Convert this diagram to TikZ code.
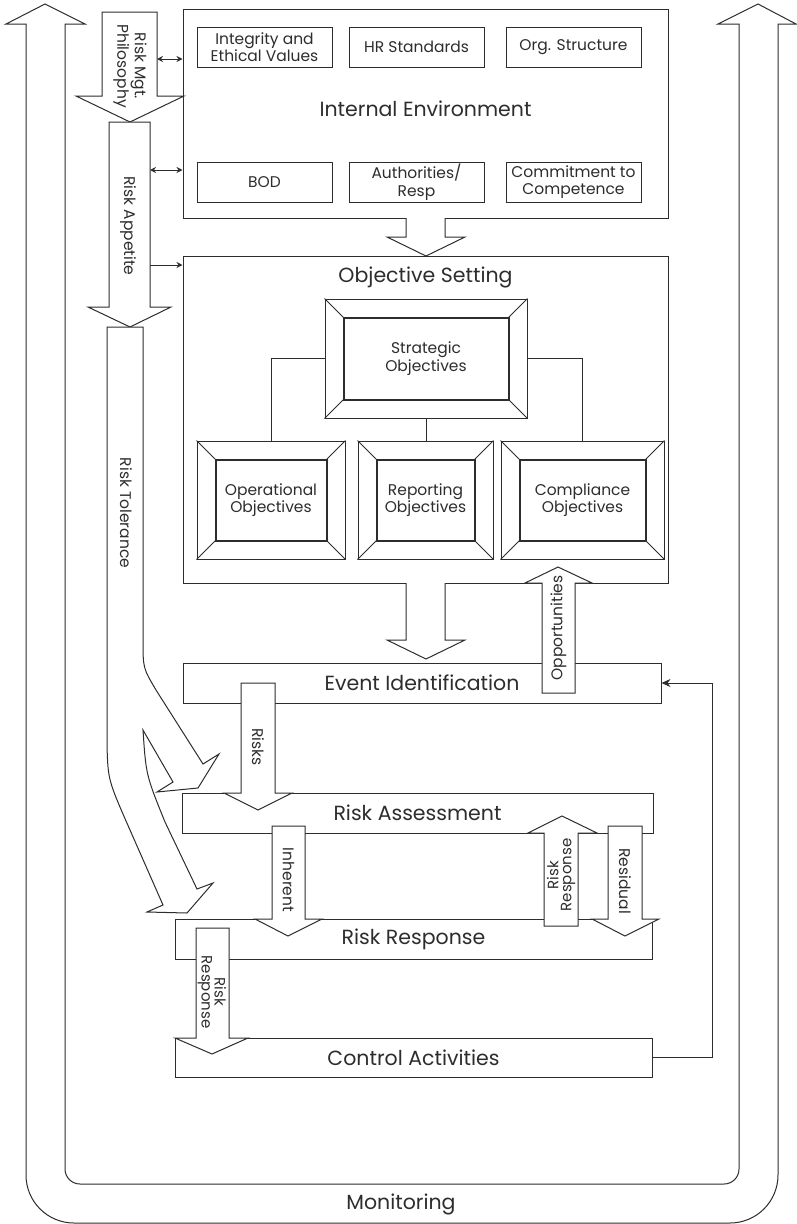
\documentclass[tikz,border=0pt]{standalone}
\usepackage{fontspec}
\setmainfont{Poppins}
\usetikzlibrary{arrows.meta,calc}
\definecolor{lc}{RGB}{45,45,45}
\newcommand\fbig{\fontsize{20.5}{24}\selectfont}
\newcommand\fsm{\fontsize{15.5}{17.5}\selectfont}
\newcommand\fxs{\fontsize{15}{13}\selectfont}
\tikzset{
  ln/.style={draw=lc, line width=1pt},
  box/.style={draw=lc, line width=1pt, fill=white, inner sep=0pt, align=center, text=lc},
  sbox/.style={box, minimum width=135, minimum height=40, font=\fsm},
  pbox/.style={box, font=\fbig},
  blk/.style={draw=lc, line width=1pt, fill=white, line join=miter},
  lbl/.style={text=lc, inner sep=0pt, align=center},
  tip/.style={{Stealth[length=6pt,width=6pt]}-{Stealth[length=6pt,width=6pt]}}
}
\newcommand\bevelbox[6]{%
  \node[box, minimum width=#4, minimum height=#5, font=\fsm] (#1) at (#2,#3) {#6};
  \draw[lc, line width=2pt] ($(#1.north west)+(19,19)$) rectangle ($(#1.south east)+(-19,-19)$);
  \draw[ln] (#1.north west) -- ++(19,19) (#1.north east) -- ++(-19,19)
            (#1.south west) -- ++(19,-19) (#1.south east) -- ++(-19,-19);
}
\begin{document}
\begin{tikzpicture}[x=1pt,y=-1pt]
\useasboundingbox (0,0) rectangle (797,1224);
% Monitoring
\draw[blk] (45,4) -- (85,24) -- (65,24) -- (65,600) [rounded corners=15pt] -- (65,1184) -- (739,1184) -- (739,600) [sharp corners] -- (739,24) -- (718,24) -- (758,4) -- (796,24) -- (778,24) -- (778,600) [rounded corners=48pt] -- (778,1223) -- (26,1223) -- (26,600) [sharp corners] -- (26,24) -- (6,24) -- cycle;
\node[lbl, font=\fbig] (mon) at (401,1204) {Monitoring};

% Internal environment
\node[box, minimum width=485, minimum height=209] (ie) at (425.5,113.5) {};
\node[lbl, font=\fbig] (iel) at (425.5,109) {Internal Environment};
\node[sbox] (integ) at (264.5,47) {Integrity and\\Ethical Values};
\node[sbox] (hr) at (416.5,47) {HR Standards};
\node[sbox] (org) at (573.5,47) {Org. Structure};
\node[sbox] (bod) at (264.5,182) {BOD};
\node[sbox] (auth) at (416.5,182) {Authorities/\\Resp};
\node[sbox] (comm) at (573.5,182) {Commitment to\\Competence};

% Objective setting
\node[box, minimum width=485, minimum height=327] (os) at (425.5,419.5) {};
\node[lbl, font=\fbig] (osl) at (425.5,277) {Objective Setting};
\bevelbox{strat}{426}{358.5}{202}{119}{Strategic\\Objectives}
\bevelbox{oper}{271}{500}{148}{118}{Operational\\Objectives}
\bevelbox{rep}{425.5}{500}{135}{118}{Reporting\\Objectives}
\bevelbox{comp}{582.5}{500}{163}{118}{Compliance\\Objectives}
\draw[ln] (strat.west) -| (oper.north);
\draw[ln] (strat.east) -| (comp.north);
\draw[ln] (strat.south) -- (strat.south |- rep.north);

% Process boxes
\node[pbox, minimum width=478, minimum height=40] (ev) at (422,683) {Event Identification};
\node[pbox, minimum width=471, minimum height=40] (ra) at (417.5,813) {Risk Assessment};
\node[pbox, minimum width=477, minimum height=40] (rr) at (413.5,939) {Risk Response};
\node[pbox, minimum width=477, minimum height=39] (ca) at (413.5,1057.5) {Control Activities};
\draw[ln, -{Stealth[length=9pt,width=8pt]}] (ca.east) -- ++(60,0) |- (ev.east);

% Risk Mgt. Philosophy
\draw[blk] (102,12) -- (157,12) -- (157,96) -- (184,96) -- (130,122) -- (76,96) -- (102,96) -- cycle;
\node[lbl, font=\fsm, rotate=-90] (rmp) at (130,66) {Risk Mgt.\\Philosophy};
% Risk Appetite
\draw[blk] (109,122) -- (150,122) -- (150,307) -- (171,307) -- (130,327) -- (88,307) -- (109,307) -- cycle;
\node[lbl, font=\fsm, rotate=-90] (rap) at (128,226) {Risk Appetite};
% Risk Tolerance
\draw[blk] (107,327) -- (143,327) -- (143,640) .. controls (143,668) .. (156,690) -- (203,764) -- (219,754) -- (198,788) -- (157,792) -- (173,782) -- (143,730) .. controls (146,775) .. (165,822) -- (197,889) -- (213,883) -- (187,913) -- (147,912) -- (163,905) -- (130,830) .. controls (108,780) .. (107,745) -- cycle;
\node[lbl, font=\fsm, rotate=-90] (rtol) at (126,513) {Risk Tolerance};

% IE -> OS
\fill[white] (406,216) -- (406,237) -- (387,237) -- (426,256) -- (465,237) -- (445,237) -- (445,216) -- cycle;
\draw[ln] (406,218) -- (406,237) -- (387,237) -- (426,256) -- (465,237) -- (445,237) -- (445,218);
% OS -> EV
\fill[white] (406,581) -- (406,640) -- (387,640) -- (426,659) -- (465,640) -- (445,640) -- (445,581) -- cycle;
\draw[ln] (406,583) -- (406,640) -- (387,640) -- (426,659) -- (465,640) -- (445,640) -- (445,583);
% Opportunities
\draw[blk] (542,693) -- (542,583) -- (525,583) -- (558,567) -- (592,583) -- (575,583) -- (575,693) -- cycle;
\node[lbl, font=\fsm, rotate=90] (opp) at (558.5,628) {Opportunities};
% Risks
\draw[blk] (241,683) -- (275,683) -- (275,793) -- (292,793) -- (258,810) -- (224,793) -- (241,793) -- cycle;
\node[lbl, font=\fsm, rotate=-90] (risks) at (258,747) {Risks};
% Inherent
\draw[blk] (272,826) -- (305,826) -- (305,919) -- (322,919) -- (288,936) -- (255,919) -- (272,919) -- cycle;
\node[lbl, font=\fsm, rotate=-90] (inh) at (288.5,880) {Inherent};
% Risk Response up
\draw[blk] (544,926) -- (544,833) -- (528,833) -- (562,816) -- (597,833) -- (578,833) -- (578,926) -- cycle;
\node[lbl, font=\fxs, rotate=90] (rrup) at (561,875) {Risk\\Response};
% Residual
\draw[blk] (608,826) -- (642,826) -- (642,919) -- (659,919) -- (625,936) -- (592,919) -- (608,919) -- cycle;
\node[lbl, font=\fsm, rotate=-90] (resid) at (625,881) {Residual};
% Risk Response down
\draw[blk] (196,928) -- (229,928) -- (229,1038) -- (248,1038) -- (212,1054) -- (175,1038) -- (196,1038) -- cycle;
\node[lbl, font=\fxs, rotate=-90] (rrdn) at (212,992) {Risk\\Response};

% small arrows
\coordinate (rmpR) at (157,59);
\draw[ln, tip] (rmpR) -- (rmpR -| ie.west);
\coordinate (rapR) at (150,170);
\draw[ln, tip] (rapR) -- (rapR -| ie.west);
\coordinate (rapS) at (150,265);
\draw[ln, -{Stealth[length=6pt,width=6pt]}] (rapS) -- (rapS -| os.west);
\end{tikzpicture}
\end{document}
